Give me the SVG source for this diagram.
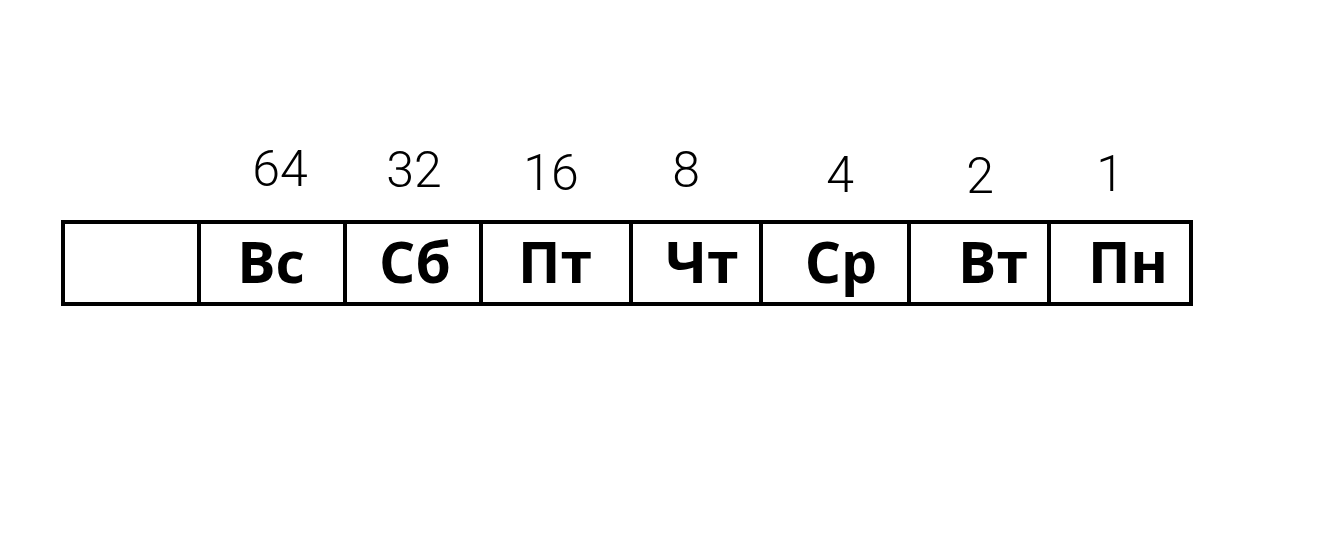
<svg xmlns="http://www.w3.org/2000/svg" width="1332" height="536" viewBox="0 0 1332 536">
  <style>
    .cell { fill: #ffffff; stroke: #000000; stroke-width: 4; }
    .day { font-family: "Open Sans", "Liberation Sans", sans-serif; font-weight: 700; font-size: 57px; fill: #000000; text-anchor: middle; }
    .num { font-family: Roboto, "Liberation Sans", sans-serif; font-weight: 300; font-size: 50px; fill: #000000; text-anchor: middle; }
  </style>
  <rect width="1332" height="536" fill="#ffffff"/>
  <g id="connectors"></g>
  <g id="cell-empty">
    <rect class="cell" x="63" y="222" width="136" height="82"/>
  </g>
  <g id="cell-vs">
    <rect class="cell" x="199" y="222" width="146" height="82"/>
    <text class="day" x="271" y="283">Вс</text>
    <text class="num" x="280" y="186">64</text>
  </g>
  <g id="cell-sb">
    <rect class="cell" x="345" y="222" width="136" height="82"/>
    <text class="day" x="415" y="283">Сб</text>
    <text class="num" x="414" y="187">32</text>
  </g>
  <g id="cell-pt">
    <rect class="cell" x="481" y="222" width="150" height="82"/>
    <text class="day" x="555" y="283">Пт</text>
    <text class="num" x="551" y="190">16</text>
  </g>
  <g id="cell-cht">
    <rect class="cell" x="631" y="222" width="130" height="82"/>
    <text class="day" x="702" y="283">Чт</text>
    <text class="num" x="686" y="187">8</text>
  </g>
  <g id="cell-sr">
    <rect class="cell" x="761" y="222" width="148" height="82"/>
    <text class="day" x="841" y="283">Ср</text>
    <text class="num" x="840" y="192">4</text>
  </g>
  <g id="cell-vt">
    <rect class="cell" x="909" y="222" width="140" height="82"/>
    <text class="day" x="993" y="283">Вт</text>
    <text class="num" x="980" y="193">2</text>
  </g>
  <g id="cell-pn">
    <rect class="cell" x="1049" y="222" width="142" height="82"/>
    <text class="day" x="1128" y="283">Пн</text>
    <text class="num" x="1110" y="191">1</text>
  </g>
</svg>
